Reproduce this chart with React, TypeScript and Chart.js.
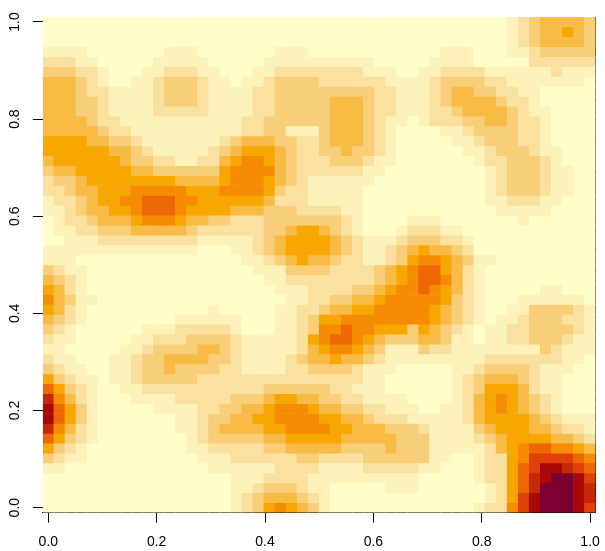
import React, { useEffect, useRef } from "react";
import { Chart, registerables } from "chart.js";

Chart.register(...registerables);

// Colour of each binned level, palest first
const levelColors = [
  "#FFFDC8", "#FEF2BB", "#FBE1A0", "#F8CE78", "#F8BB45", "#F7A602",
  "#F58C04", "#EE6705", "#E04008", "#C42A06", "#A80806", "#7D0033",
];

// Grid rows from y = 1.0 (top) to y = 0.0 (bottom); one base-12 digit per column
const gridRows = [
  "00000000000000000 00000000000000000 0000000012344443",
  "00000000000000000 00000000000000000 0000000012344543",
  "00000000000000000 00000000000000000 0000000012344443",
  "11110000000111000 00001110000000000 0011100011233333",
  "22211000001111100 00011111111110000 0111100000222222",
  "33322100011222110 00112222222211100 1122221111112111",
  "44432100112333211 01123333222222111 1233332211111110",
  "44432211112333211 11223333333332211 1234433221100000",
  "44433211112333211 11223333344432211 1234444322100000",
  "44433211112222211 11223333344432211 1223444432110000",
  "44443221111111111 12233333344432110 1222334432210000",
  "44444322111111111 12233111344432100 0011233332210000",
  "55554433211111112 34443322344432100 0001123332210000",
  "55555544321111123 45554322334332100 0000112333211000",
  "45555554332211224 56654322233321100 0000012233321000",
  "34455555443333335 66664322222211000 0000001233321100",
  "23345555555544445 66654321111110000 0000001233321100",
  "22344555666665556 66653221111100000 0000001233321100",
  "12234556677766555 55542221111100000 0000001122211000",
  "11234455677765555 44433322221100000 0000000111110000",
  "01223444566654433 22233333332100001 1100000001000000",
  "01122333444443222 22233455432100012 2211000000000000",
  "00111222222222111 11234555543211123 3322100000000000",
  "11111111111111000 11234555543211234 5443200000000000",
  "11100000000000000 01123454432211235 6654311000000000",
  "32110000000000000 00111333322223456 7754210000000000",
  "43210000000000000 00011222222223456 7764210000000000",
  "54210000000000000 00001112222334566 7654210000011000",
  "64311000000000000 00000112233445666 6653210001111110",
  "54210000000000010 00001122344556666 6543210011333321",
  "43210000000011111 10001123556666666 6543210112333221",
  "32100000011122222 10001123667665553 5432101122333321",
  "21100000112223333 21111125677654333 4431101122333211",
  "11000001123333443 21111124566543111 3221111111132111",
  "21100011233444433 21111234454432111 1111112222222110",
  "32110011233433332 21111223333211100 0001123333211100",
  "53211011233333222 22222222222211000 0001234443211000",
  "75321001122222222 22233333322111000 0001235554211000",
  "96421000111122222 33345544332211110 0001245654321000",
  "a7531000001111223 34456665443322111 0011245654321000",
  "a7531000000011233 44556666554432221 1111245555432111",
  "96421000000011234 44455666655444333 2111134555443221",
  "75321000000001233 33344555554444433 3111123455554432",
  "53210000000001122 22233444443333433 3111112456776654",
  "32110000000000111 22222233222233333 3110012256888876",
  "11000000000000011 11112222111122222 11000122578aa987",
  "00000000000000000 11122221111111111 00000122579abba8",
  "00000000000000000 11233321100000111 00000012579bbba9",
  "00000000000000000 12344432100000000 0000001258abbba9",
  "00000000000000000 12356543100000000 0000012268abbba8",
];

const xTickValues = [0, 0.2, 0.4, 0.6, 0.8, 1];
const yTickValues = [0, 0.2, 0.4, 0.6, 0.8, 1];

const rows = gridRows.map((r) => r.replace(/ /g, ""));
rows.forEach((r, i) => {
  if (r.length !== 50) throw new Error("row " + i + " has length " + r.length);
});
const step = 1 / (rows.length - 1);

const fontSpec = { family: "'Liberation Sans', Arial, sans-serif", size: 14 };

export default function App() {
  const ref = useRef<HTMLCanvasElement>(null);

  useEffect(() => {
    document.body.style.margin = "0";
    const datasets = rows.map((row, r) => {
      const yCenter = 1 - r * step;
      const cells = row.split("").map((c) => parseInt(c, 12));
      return {
        data: cells.map((_, c) => ({
          x: c * step,
          y: [yCenter - step / 2, yCenter + step / 2],
        })),
        backgroundColor: cells.map((lvl) => levelColors[lvl]),
        borderWidth: 0,
        grouped: false,
        barPercentage: 1,
        categoryPercentage: 1,
      };
    });

    const chart = new Chart(ref.current as HTMLCanvasElement, {
      type: "bar",
      data: { datasets } as any,
      options: {
        animation: false,
        responsive: false,
        devicePixelRatio: 1,
        layout: { padding: { top: 17, right: 9.4, left: 0, bottom: 0 } },
        plugins: { legend: { display: false }, tooltip: { enabled: false } },
        scales: {
          x: {
            type: "linear",
            offset: false,
            min: -step / 2,
            max: 1 + step / 2,
            stacked: true,
            afterBuildTicks: (s: any) => {
              s.ticks = xTickValues.map((value) => ({ value }));
            },
            afterFit: (s: any) => {
              s.height = 38.4;
              s.paddingLeft = 0;
              s.paddingRight = 0;
            },
            grid: {
              offset: false,
              drawOnChartArea: false,
              drawTicks: true,
              tickLength: 10,
              tickColor: "#000",
              tickWidth: 1,
            },
            border: { display: true, color: "#000", width: 1 },
            ticks: {
              color: "#000",
              font: fontSpec,
              padding: 11,
              autoSkip: false,
              maxRotation: 0,
              minRotation: 0,
              callback: (v: any) => Number(v).toFixed(1),
            },
          },
          y: {
            type: "linear",
            position: "left",
            min: -step / 2,
            max: 1 + step / 2,
            afterBuildTicks: (s: any) => {
              s.ticks = yTickValues.map((value) => ({ value }));
            },
            afterFit: (s: any) => {
              s.width = 42.8;
              s.paddingTop = 0;
              s.paddingBottom = 0;
            },
            grid: {
              drawOnChartArea: false,
              drawTicks: true,
              tickLength: 10,
              tickColor: "#000",
              tickWidth: 1,
            },
            border: { display: false },
            ticks: {
              color: "#000",
              font: fontSpec,
              padding: 8,
              autoSkip: false,
              minRotation: 90,
              maxRotation: 90,
              crossAlign: "center",
              callback: (v: any) => Number(v).toFixed(1),
            },
          },
          yRight: {
            type: "linear",
            position: "right",
            min: 0,
            max: 1,
            afterFit: (s: any) => {
              s.width = 0;
              s.paddingTop = 0;
              s.paddingBottom = 0;
            },
            grid: { display: false },
            border: { display: true, color: "#000", width: 1 },
            ticks: { display: false },
          },
        },
      } as any,
    });
    return () => chart.destroy();
  }, []);

  return (
    <canvas
      ref={ref}
      width={605}
      height={551}
      style={{ display: "block", width: 605, height: 551 }}
    />
  );
}
